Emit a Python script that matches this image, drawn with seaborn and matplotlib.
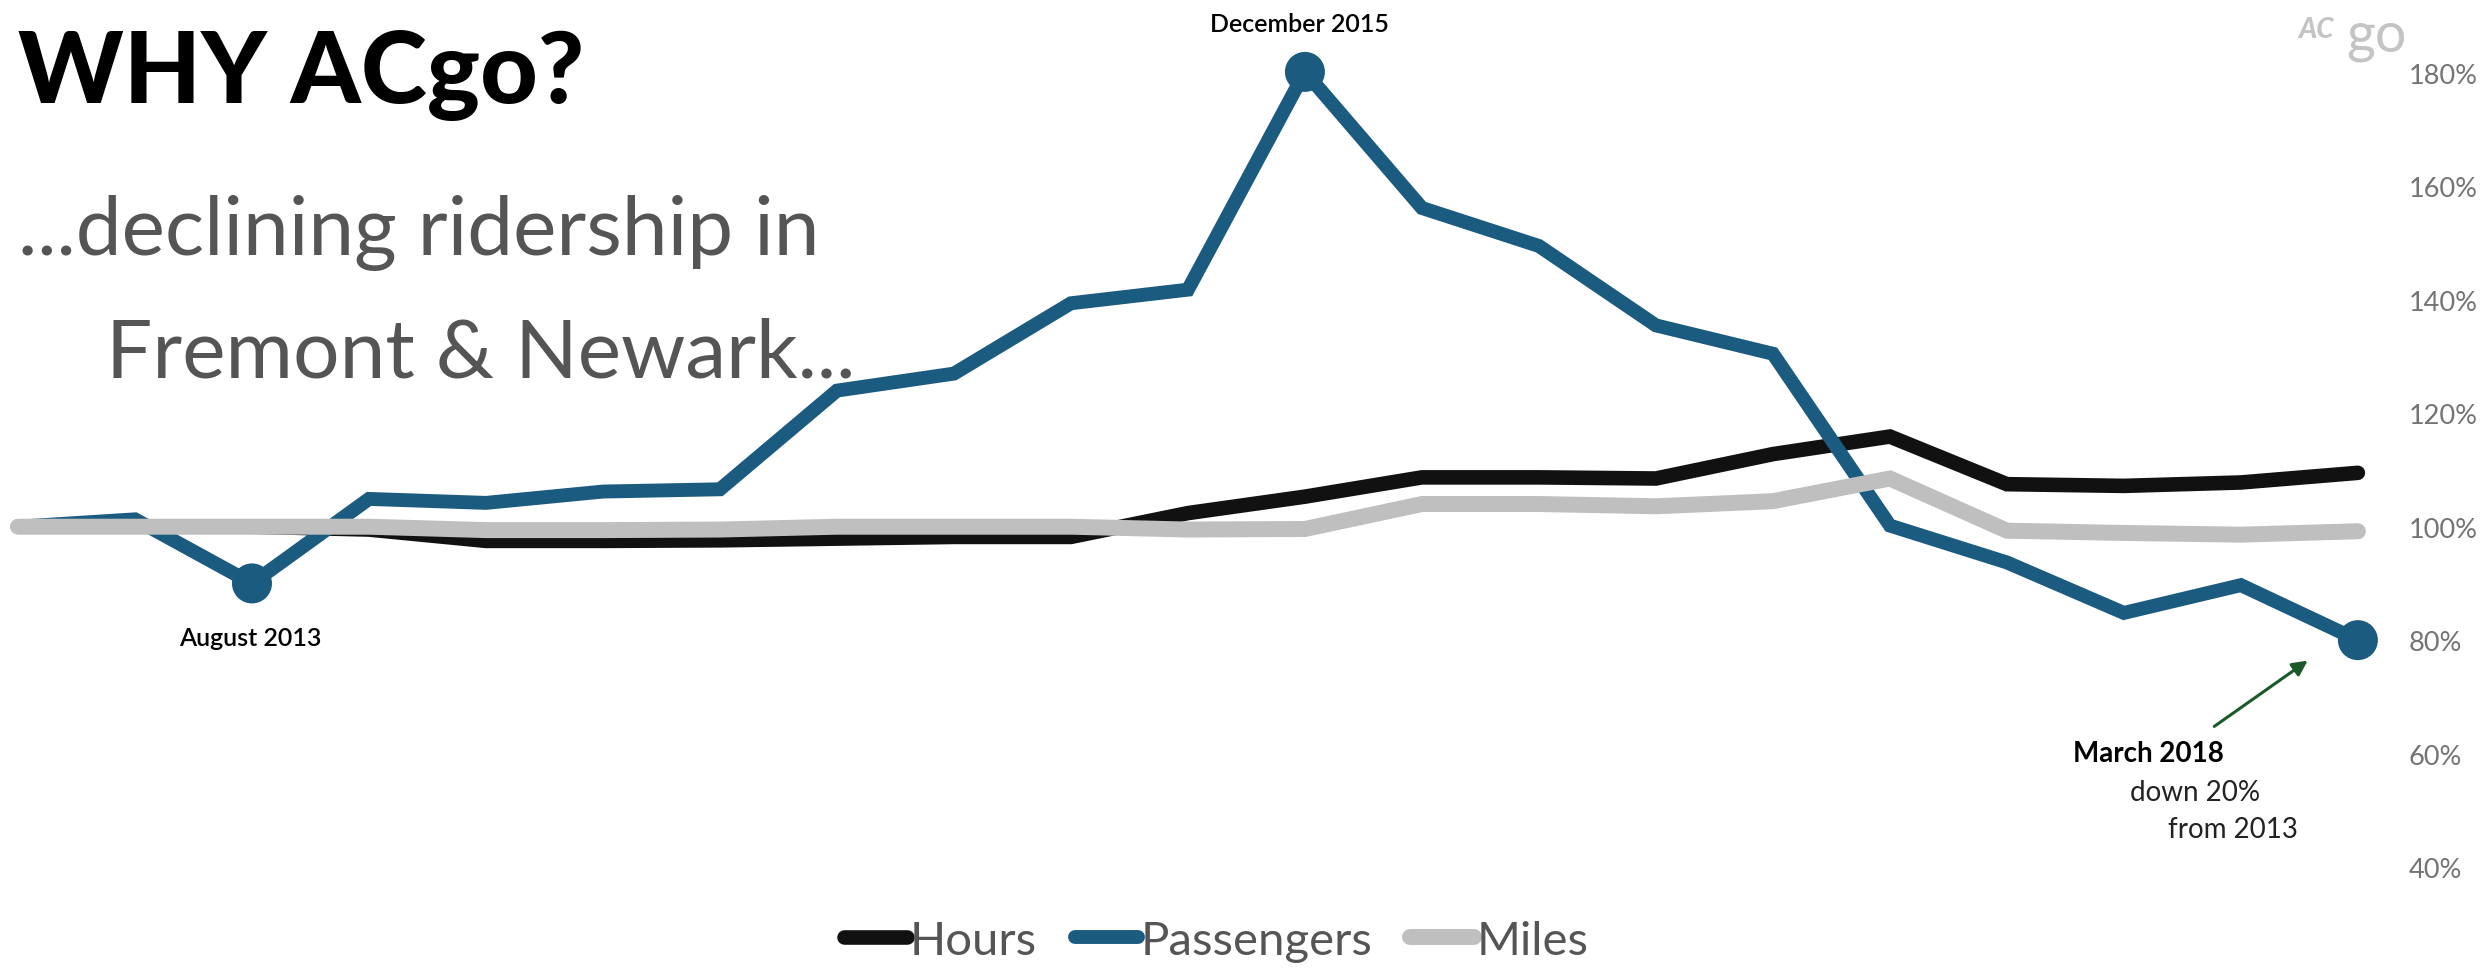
import matplotlib
matplotlib.use("Agg")
import matplotlib.pyplot as plt
import seaborn as sns
import pandas as pd

# ---- data (index of reporting period, % of 2013 baseline) ----
periods = list(range(21))
hours = [100, 100, 100, 99.5, 97.5, 97.5, 97.6, 97.9, 98.2, 98.2, 102.4,
         105.3, 108.7, 108.7, 108.5, 112.8, 115.9, 107.5, 107.2, 107.8, 109.5]
passengers = [100, 101.3, 90.0, 104.9, 104.2, 106.2, 106.6, 124.0, 127.0, 139.4, 141.8,
              180.2, 156.2, 149.5, 135.5, 130.5, 100.2, 93.7, 84.8, 89.7, 80.0]
miles = [100, 100, 100, 100, 99.4, 99.4, 99.5, 100, 100, 100, 99.5,
         99.6, 104.0, 104.0, 103.6, 104.5, 108.5, 99.3, 98.9, 98.6, 99.2]
series_names = ["Hours", "Passengers", "Miles"]
highlight_idx = [2, 11, 20]
highlight_labels = ["August 2013", "December 2015", "March 2018"]
y_ticks = [40, 60, 80, 100, 120, 140, 160, 180]

sns.set_style("white")
plt.rcParams["font.family"] = ["Lato", "DejaVu Sans"]

colors = {"Hours": "#111111", "Passengers": "#1b5b80", "Miles": "#bfbfbf"}
widths = {"Hours": 10.5, "Passengers": 10, "Miles": 11.5}

df = pd.DataFrame({
    "period": periods * 3,
    "value": hours + passengers + miles,
    "series": sum([[s] * len(periods) for s in series_names], []),
})

W, H = 2484, 970
fig = plt.figure(figsize=(W / 100, H / 100), dpi=100)
fig.patch.set_facecolor("white")

# axes geometry: x -0.15..20.36, y 30..190
ax = fig.add_axes([0.45 / W, (H - 924.7) / H, (2400 - 0.45) / W, (924.7 - 17.3) / H])

for s in series_names:
    sub = df[df["series"] == s]
    sns.lineplot(data=sub, x="period", y="value", ax=ax, color=colors[s],
                 linewidth=widths[s], solid_capstyle="round", solid_joinstyle="miter",
                 label=s, clip_on=False)

hl = pd.DataFrame({"period": highlight_idx,
                   "value": [passengers[i] for i in highlight_idx]})
sns.scatterplot(data=hl, x="period", y="value", ax=ax, color=colors["Passengers"],
                s=830, edgecolor="none", zorder=5, clip_on=False, legend=False)

ax.set_xlim(-0.15, 20.36)
ax.set_ylim(30, 190)
ax.set_xlabel("")
ax.set_ylabel("")
ax.set_xticks([])
ax.yaxis.tick_right()
ax.set_yticks(y_ticks)
ax.set_yticklabels([f"{v}%" for v in y_ticks])
ax.tick_params(axis="y", length=0, pad=6, labelcolor="#747474", labelsize=19.5)
for sp in ax.spines.values():
    sp.set_visible(False)

# legend
leg = ax.legend(loc="center", bbox_to_anchor=(1216 / W, (H - 942) / H),
                bbox_transform=fig.transFigure, ncol=3, frameon=False,
                fontsize=34, handlelength=1.35, handletextpad=0.05,
                columnspacing=0.8, labelcolor="#555555")

def fx(px):
    return px / W

def fy(py):
    return 1 - py / H

# titles
fig.text(fx(18), fy(103), "WHY ACgo?", fontsize=72, fontweight="black",
         color="black", va="baseline", ha="left")
fig.text(fx(18), fy(255), "...declining ridership in", fontsize=59,
         color="#555555", va="baseline", ha="left")
fig.text(fx(106), fy(378), "Fremont & Newark...", fontsize=59,
         color="#555555", va="baseline", ha="left")

# annotations
fig.text(fx(1299), fy(32), highlight_labels[1], fontsize=18, fontweight="semibold",
         color="black", va="baseline", ha="center")
fig.text(fx(250), fy(646), highlight_labels[0], fontsize=18, fontweight="semibold",
         color="black", va="baseline", ha="center")
fig.text(fx(2073), fy(762), highlight_labels[2], fontsize=20, fontweight="bold",
         color="black", va="baseline", ha="left")
fig.text(fx(2130), fy(801), "down 20%", fontsize=20, fontweight="normal",
         color="#222222", va="baseline", ha="left")
fig.text(fx(2168), fy(838), "from 2013", fontsize=20, fontweight="normal",
         color="#222222", va="baseline", ha="left")
ax.annotate("", xy=(fx(2310), fy(660)), xytext=(fx(2212), fy(729)),
            xycoords="figure fraction", textcoords="figure fraction",
            arrowprops=dict(arrowstyle="-|>,head_length=0.9,head_width=0.45",
                            color="#1a5a28", lw=2.2))

# logo approximation
fig.text(fx(2298), fy(38), "AC", fontsize=20, fontweight="black", style="italic",
         color="#c4c4c4", va="baseline", ha="left")
fig.text(fx(2346), fy(52), "go", fontsize=40, fontweight="normal",
         color="#c4c4c4", va="baseline", ha="left")

fig.savefig("out.png", dpi=100, facecolor="white")
